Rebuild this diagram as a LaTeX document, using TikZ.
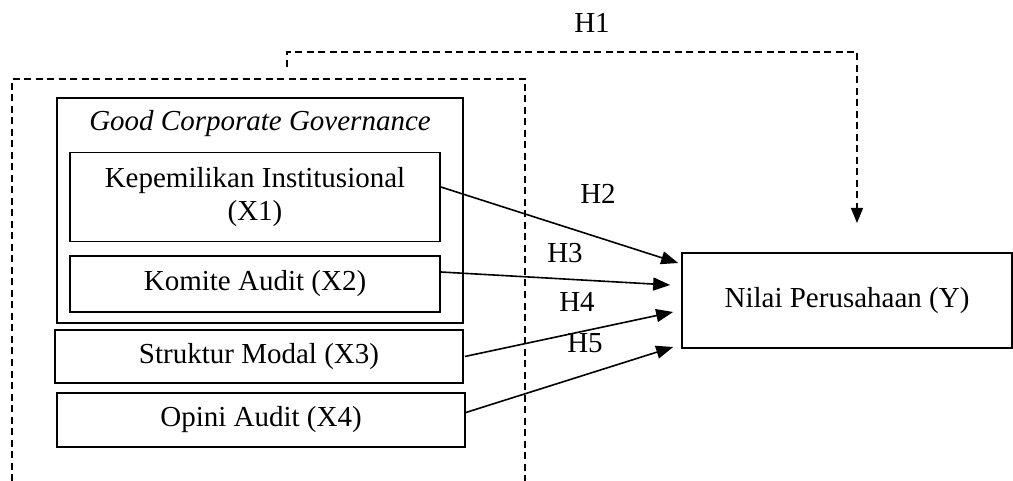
\documentclass[tikz,border=0pt]{standalone}
\usepackage{fontspec}
\setmainfont{Liberation Serif}
\usetikzlibrary{arrows.meta}
\begin{document}
\begin{tikzpicture}[x=1pt,y=-1pt,
  box/.style={draw,line width=1.7pt,inner sep=0pt,align=center,font=\fontsize{29}{33}\selectfont},
  lbl/.style={inner sep=0pt,font=\fontsize{29}{33}\selectfont},
  conn/.style={line width=1.6pt,-{Triangle[length=17pt,width=13pt]}},
  dashline/.style={line width=1.4pt,dash pattern=on 7pt off 4.5pt}]
\useasboundingbox (0,0) rectangle (1013,481);
% outer dashed frame
\coordinate (fbl) at (12,481);
\coordinate (ftl) at (12,79);
\coordinate (ftr) at (525,79);
\coordinate (fbr) at (525,481);
\draw[dashline] (fbl) -- (ftl) -- (ftr) -- (fbr);
% GCG box
\node[box,minimum width=406pt,minimum height=225pt] (gcg) at (260,210.5) {};
\node[lbl,font=\fontsize{29}{33}\selectfont\itshape] (gcgt) at (260,124) {Good Corporate Governance};
\node[box,minimum width=370pt,minimum height=89pt] (x1) at (255,197) {Kepemilikan Institusional\\(X1)};
\node[box,minimum width=370pt,minimum height=56pt] (x2) at (255,284) {Komite Audit (X2)};
\node[box,minimum width=408pt,minimum height=53pt] (x3) at (259,356.5) {Struktur Modal (X3)};
\node[box,minimum width=408pt,minimum height=54pt] (x4) at (261,420) {Opini Audit (X4)};
\node[box,minimum width=330pt,minimum height=95pt] (y) at (847,300.5) {Nilai Perusahaan (Y)};
% H1
\coordinate (h1s) at (287,67);
\coordinate (h1a) at (287,52);
\coordinate (h1b) at (857,52);
\coordinate (h1e) at (857,223);
\draw[dashline,-{Triangle[length=15pt,width=12pt]}] (h1s) -- (h1a) -- (h1b) -- (h1e);
\node[lbl] (lh1) at (592,23) {H1};
% arrows
\draw[conn] ([yshift=10pt]x1.east) -- ([xshift=-3pt,yshift=37.5pt]y.west);
\draw[conn] ([yshift=12pt]x2.east) -- ([xshift=-11pt,yshift=15.5pt]y.west);
\draw[conn] ([xshift=1pt]x3.east) -- ([xshift=-8pt,yshift=-11.5pt]y.west);
\draw[conn] ([yshift=7.5pt]x4.east) -- ([xshift=-8pt,yshift=-46.5pt]y.west);
\node[lbl] (lh2) at (598,194) {H2};
\node[lbl] (lh3) at (565,253) {H3};
\node[lbl] (lh4) at (577,302) {H4};
\node[lbl] (lh5) at (585,343) {H5};
\end{tikzpicture}
\end{document}
